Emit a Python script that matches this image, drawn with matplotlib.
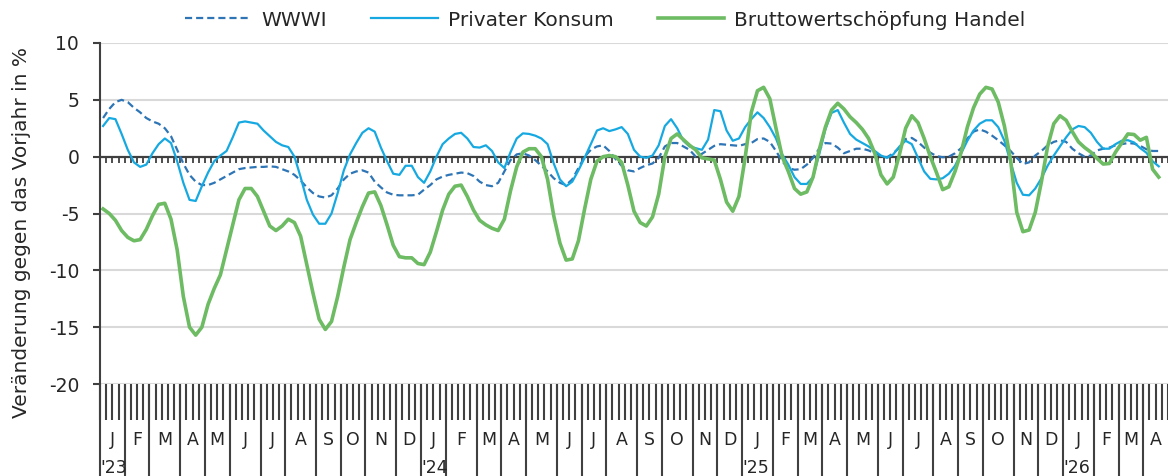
import numpy as np
import pandas as pd
import matplotlib
matplotlib.use("Agg")
import matplotlib.pyplot as plt

# weekly values, ISO weeks 2023-W01 .. 2026-W16 (axis runs one week further)
wwwi = [3.4, 4.2, 4.8, 5.0, 4.8, 4.3, 3.9, 3.4, 3.1, 2.9, 2.5, 1.8, 0.6, -0.6, -1.6,
        -2.2, -2.5, -2.5, -2.3, -2.0, -1.7, -1.4, -1.1, -1.0, -0.95, -0.9, -0.9, -0.85,
        -0.9, -1.1, -1.3, -1.6, -2.1, -2.7, -3.2, -3.5, -3.6, -3.4, -2.8, -2.0, -1.5,
        -1.3, -1.2, -1.4, -2.2,
        -2.7, -3.15, -3.35, -3.4, -3.4, -3.4, -3.35, -2.9, -2.5, -2.0, -1.75, -1.6, -1.5,
        -1.4, -1.45, -1.7, -2.2, -2.5, -2.6, -2.3, -1.3, -0.3, 0.2, 0.3, 0.1, -0.3, -0.8,
        -1.3, -1.9, -2.3, -2.5, -2.0, -1.0, 0.0, 0.6, 0.9, 1.0, 0.5, -0.2, -0.8, -1.2,
        -1.3, -1.0,
        -0.75, -0.6, -0.1, 0.9, 1.2, 1.2, 0.9, 0.6, 0.0, 0.25, 0.6, 0.95, 1.1, 1.05, 1.0,
        0.95, 1.1, 1.2, 1.55, 1.6, 1.3, 0.5, -0.4, -1.0, -1.15, -1.1, -0.7, -0.1, 0.7,
        1.2, 1.15, 0.8, 0.3, 0.5, 0.7, 0.7, 0.55, 0.3, 0.05, -0.05, 0.3, 0.8, 1.55, 1.65,
        1.3, 0.8, 0.35, 0.05, -0.05, 0.0, 0.3, 0.75, 1.6, 2.2, 2.4, 2.2, 1.85, 1.45, 1.0,
        0.5, -0.1, -0.65, -0.5, 0.1, 0.5, 1.0, 1.3, 1.45, 1.3, 0.7, 0.3, 0.0, 0.1, 0.55,
        0.7, 0.8, 1.0, 1.1, 1.2, 1.15, 0.95, 0.65, 0.5, 0.5]
konsum = [2.7, 3.4, 3.3, 2.0, 0.6, -0.5, -0.9, -0.7, 0.3, 1.1, 1.6, 1.2, -0.4, -2.3, -3.8,
          -3.9, -2.6, -1.4, -0.4, 0.1, 0.5, 1.7, 3.0, 3.1, 3.0, 2.9, 2.3, 1.8, 1.3, 1.0,
          0.85, 0.0, -1.8, -3.8, -5.1, -5.9, -5.9, -5.0, -3.2, -1.2, 0.2, 1.2, 2.1, 2.5, 2.2,
          0.8, -0.4, -1.5, -1.6, -0.8, -0.8, -1.8, -2.3, -1.3, 0.0, 1.1, 1.6, 2.0, 2.1, 1.6,
          0.85, 0.8, 1.0, 0.5, -0.5, -1.0, 0.4, 1.6, 2.05, 2.0, 1.85, 1.6, 1.1, -0.6, -2.0,
          -2.6, -2.2, -1.2, -0.1, 1.1, 2.3, 2.5, 2.25, 2.4, 2.6, 2.0, 0.6, 0.0,
          -0.1, 0.1, 1.0, 2.7, 3.3, 2.5, 1.4, 0.9, 0.75, 0.6, 1.5, 4.1, 4.0, 2.3, 1.4, 1.6,
          2.6, 3.3, 3.9, 3.4, 2.6, 1.6, 0.2, -0.7, -1.8, -2.4, -2.4, -1.8, 0.2, 2.4, 3.85,
          4.1, 3.0, 2.0, 1.5, 1.2, 0.9, 0.5, 0.1, -0.1, 0.2, 0.9, 1.4, 1.1,
          -0.1, -1.3, -1.95, -2.0, -1.9, -1.5, -0.8, 0.3, 1.4, 2.3, 2.9, 3.2, 3.2, 2.6, 1.4,
          -0.5, -2.3, -3.35, -3.4, -2.8, -1.9, -0.8, 0.1, 0.9, 1.7, 2.4, 2.7, 2.6, 2.1, 1.3,
          0.7, 0.7, 1.1, 1.4, 1.45, 1.25, 0.75, 0.35, -0.4, -0.85]
handel = [-4.6, -5.0, -5.6, -6.5, -7.1, -7.4, -7.3, -6.4, -5.2, -4.2, -4.1, -5.5, -8.2,
          -12.3, -15.0, -15.7, -15.0, -13.0, -11.6, -10.4, -8.2, -6.0, -3.8, -2.8, -2.8,
          -3.5, -4.8, -6.1, -6.5, -6.1, -5.5, -5.8, -7.0, -9.5, -12.0, -14.3, -15.2, -14.5,
          -12.3, -9.7, -7.3, -5.8, -4.4, -3.2, -3.1,
          -4.3, -6.0, -7.8, -8.8, -8.9, -8.9, -9.4, -9.5, -8.4, -6.6, -4.7, -3.3, -2.6,
          -2.5, -3.5, -4.7, -5.6, -6.0, -6.3, -6.5, -5.5, -3.0, -0.9, 0.4, 0.7, 0.7, 0.0,
          -2.0, -5.2, -7.6, -9.1, -9.0, -7.4, -4.6, -2.0, -0.4, 0.0, 0.1, 0.0, -0.5, -2.5,
          -4.8, -5.8,
          -6.1, -5.3, -3.3, 0.0, 1.6, 2.0, 1.5, 1.0, 0.6, -0.1, -0.2, -0.3, -2.0, -4.0,
          -4.8, -3.5, -0.1, 3.9, 5.8, 6.1, 5.1, 2.5, 0.0, -1.3, -2.8, -3.3, -3.1, -1.8, 0.6,
          2.6, 4.1, 4.7, 4.2, 3.5, 3.0, 2.4, 1.6, 0.3, -1.6, -2.4, -1.8, 0.2, 2.5, 3.6,
          3.0, 1.6, 0.0, -1.4, -2.9, -2.65, -1.3, 0.4, 2.6, 4.3, 5.5, 6.1, 5.95, 4.8, 2.7,
          -0.3, -4.9, -6.6, -6.45, -4.9, -2.2, 0.9, 2.9, 3.6, 3.2, 2.2, 1.3, 0.8, 0.4,
          -0.15, -0.65, -0.6, 0.4, 1.2, 2.0, 1.95, 1.45, 1.7, -1.1, -1.8]

labels = ["WWWI", "Privater Konsum", "Bruttowertschöpfung Handel"]
month_letters = ["J", "F", "M", "A", "M", "J", "J", "A", "S", "O", "N", "D"]
y_ticks = [10, 5, 0, -5, -10, -15, -20]
y_label = "Veränderung gegen das Vorjahr in %"

N_WEEKS = 173
DARK = "#404040"
GRID = "#d9d9d9"
TXT = "#262626"

# Thursday of each ISO week decides which month the week belongs to
thursdays = pd.date_range("2023-01-05", periods=N_WEEKS, freq="7D")

fig = plt.figure(figsize=(11.68, 4.76), dpi=100)
ax = fig.add_axes([100 / 1168, 1 - 384 / 476, 1068 / 1168, 341 / 476])

ax.plot(np.arange(len(wwwi)), wwwi, color="#2e75b6", lw=1.6, dashes=(3.2, 1.8),
        label=labels[0])
ax.plot(np.arange(len(konsum)), konsum, color="#16a9e1", lw=1.6, label=labels[1])
ax.plot(np.arange(len(handel)), handel, color="#6dbb63", lw=2.6, label=labels[2])

ax.set_xlim(-0.5, N_WEEKS - 0.5)
ax.set_ylim(-20, 10)
ax.set_yticks(y_ticks)
ax.set_yticklabels([str(v) for v in y_ticks], fontsize=13.5, color=TXT)
ax.tick_params(axis="y", length=5, width=1.5, color=DARK, pad=10)
ax.set_xticks([])
for v in y_ticks:
    if v != 0:
        ax.axhline(v, color=GRID, lw=1.5, zorder=0)
for s in ["top", "right", "bottom"]:
    ax.spines[s].set_visible(False)
ax.spines["left"].set_color(DARK)
ax.spines["left"].set_linewidth(1.5)
ax.spines["left"].set_bounds(-20, 10)

# zero line with weekly ticks
bounds = np.arange(N_WEEKS + 1) - 0.5
ax.axhline(0, color=DARK, lw=1.6, zorder=1)
ax.vlines(bounds[1:], -0.55, 0, color=DARK, lw=1.3, zorder=1)

# category axis below the plot: weekly ticks, month separators, letters, years
tr = ax.get_xaxis_transform()
ax.vlines(bounds, -0.106, 0, color=DARK, lw=1.5, transform=tr, clip_on=False)
months = thursdays.month.values
starts = [0] + [i for i in range(1, N_WEEKS) if months[i] != months[i - 1]]
ends = starts[1:] + [N_WEEKS]
ax.vlines([s - 0.5 for s in starts], -0.28, 0, color=DARK, lw=1.5,
          transform=tr, clip_on=False)
for s, e in zip(starts, ends):
    ax.text((s + e - 1) / 2, -0.165, month_letters[months[s] - 1], transform=tr,
            ha="center", va="center", fontsize=12.5, color=TXT)
    if months[s] == 1:
        ax.text(s - 0.45, -0.245, "'" + str(thursdays[s].year)[2:], transform=tr,
                ha="left", va="center", fontsize=12.5, color=TXT)

fig.text(22 / 1168, 1 - 232 / 476, y_label, rotation=90, ha="center", va="center",
         fontsize=14.5, color=TXT)

fig.legend(loc="center", bbox_to_anchor=(0.518, 1 - 20 / 476), ncol=3, frameon=False,
           fontsize=14.5, handlelength=3.3, handletextpad=0.5, columnspacing=2.2,
           labelcolor=TXT)

fig.savefig("out.png", dpi=100)
